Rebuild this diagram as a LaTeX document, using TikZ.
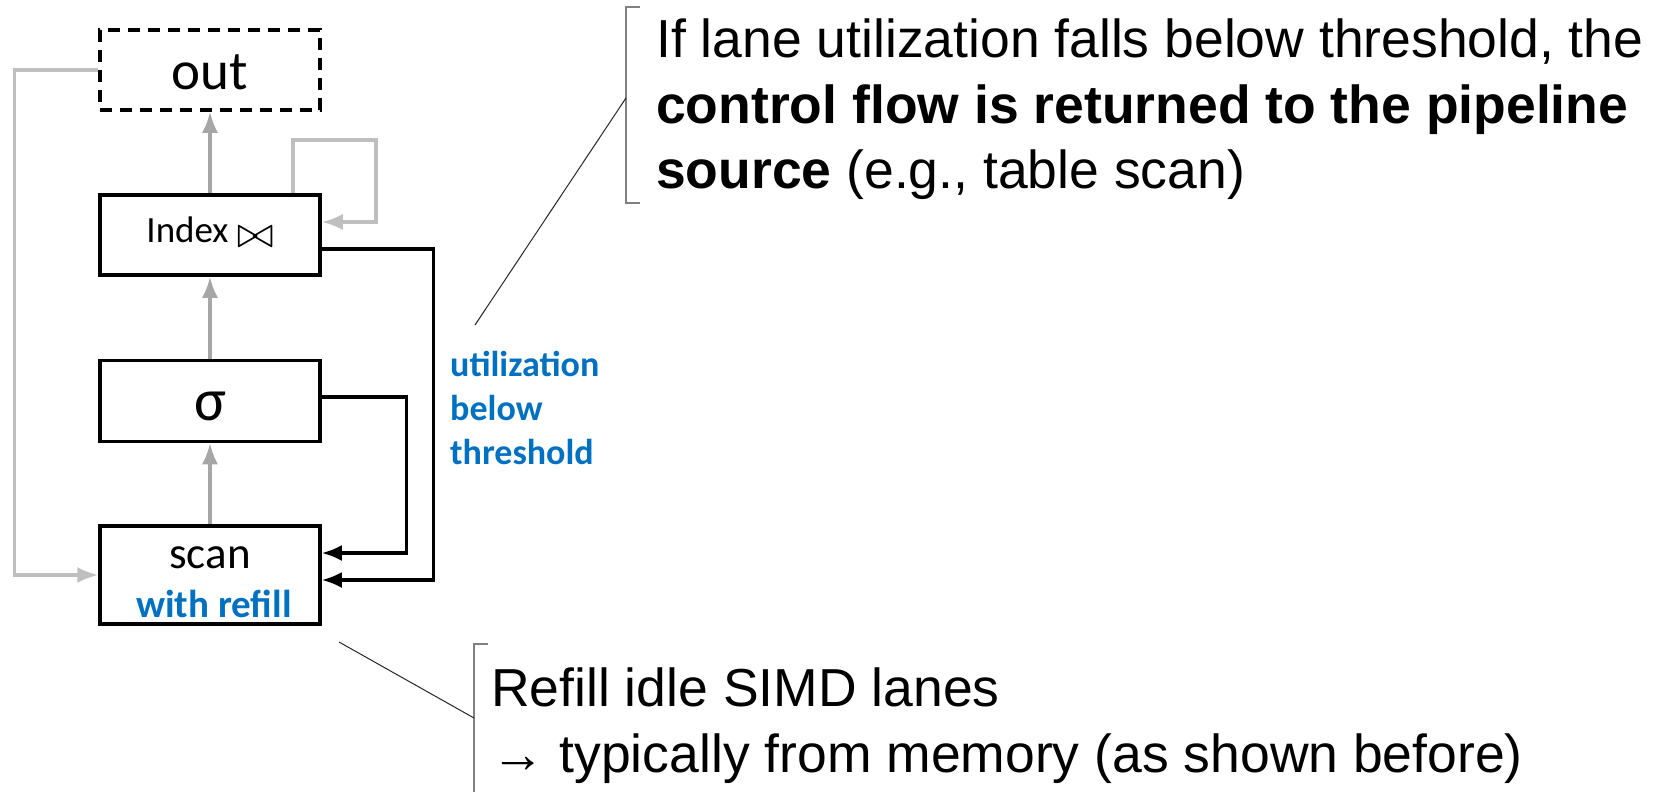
\documentclass[tikz,border=0pt]{standalone}
\usepackage{graphicx}
\usepackage{fontspec}
\setmainfont{Liberation Sans}
\newfontfamily\boxfont{Carlito}
\usetikzlibrary{arrows.meta}
\definecolor{refillblue}{HTML}{0070C0}
\definecolor{flowgray}{HTML}{A6A6A6}
\definecolor{loopgray}{HTML}{BFBFBF}
\definecolor{bracegray}{HTML}{808080}
\tikzset{
    opbox/.style={draw, line width=3.5pt, minimum width=220pt, inner sep=0pt},
    flowarrow/.style={draw=flowgray, line width=3.2pt, -{Latex[length=21pt,width=16pt]}},
    looparrow/.style={draw=loopgray, line width=3.2pt, -{Latex[length=21pt,width=16pt]}},
    ctrlarrow/.style={draw=black, line width=3.2pt, -{Latex[length=20pt,width=16pt]}},
    note/.style={inner sep=0pt, anchor=base west, font=\fontsize{53.5}{64}\selectfont},
    pointer/.style={draw=black!85, line width=1pt},
    bracket/.style={draw=bracegray, line width=1.5pt}
}

\begin{document}
\begin{tikzpicture}[x=1pt,y=-1pt]
    \useasboundingbox (0,0) rectangle (1658,792);

    \node[opbox, dash pattern=on 12pt off 8pt, minimum height=80pt, text height=40pt, font={\boxfont\fontsize{55}{60}\selectfont}] (out) at (210,70) {out};
    \node[opbox, minimum height=80pt, text depth=10pt, font={\boxfont\fontsize{37}{40}\selectfont}] (index) at (210,235)
        {Index {\normalsize\raisebox{-5pt}{\scalebox{4.4}{$\bowtie$}}}};
    \node[opbox, minimum height=81pt, text height=40pt, font={\boxfont\fontsize{60}{60}\selectfont}] (sigma) at (210,401) {σ};
    \node[opbox, minimum height=98pt, align=center, font={\boxfont\fontsize{45}{49}\selectfont}] (scan) at (210,575)
        {\rule{0pt}{36pt}scan\\\hspace*{8pt}{\color{refillblue}\bfseries\fontsize{39}{49}\selectfont with refill}};

    \draw[flowarrow] (scan.north) -- (sigma.south);
    \draw[flowarrow] (sigma.north) -- (index.south);
    \draw[flowarrow] (index.north) -- (out.south);

    \draw[looparrow] ([xshift=83pt]index.north) |- (376,140) |- ([yshift=13pt]index.east);
    \draw[looparrow] (out.west) -- ++(-84,0) |- (scan.west);

    \draw[ctrlarrow] ([yshift=4pt]sigma.east) -- ++(85,0) |- ([yshift=22pt]scan.east);
    \draw[ctrlarrow] ([yshift=-14pt]index.east) -- ++(112,0) |- ([yshift=-5pt]scan.east);

    \node[anchor=west, align=left, inner sep=0pt, text=refillblue, font={\boxfont\bfseries\fontsize{36}{44}\selectfont}] (util) at (450,408)
        {utilization\\below\\threshold};

    \node[note] (note1a) at (656,58) {If lane utilization falls below threshold, the};
    \node[note] (note1b) at (656,123) {\bfseries control flow is returned to the pipeline};
    \node[note] (note1c) at (656,188) {\textbf{source} (e.g., table scan)};

    \coordinate (tip1) at (475,325);
    \coordinate (brace1) at (626,98);
    \draw[bracket] (brace1) ++(14,-91) -- ++(-14,0) -- ++(0,196) -- ++(14,0);
    \draw[pointer] (tip1) -- (brace1);

    \node[note] (note2a) at (491,706) {Refill idle SIMD lanes};
    \node[note] (note2b) at (491,772) {→ typically from memory (as shown before)};

    \coordinate (tip2) at (339,642);
    \coordinate (brace2) at (474,718);
    \draw[bracket] (brace2) ++(14,-74) -- ++(-14,0) -- ++(0,160);
    \draw[pointer] (tip2) -- (brace2);
\end{tikzpicture}
\end{document}
